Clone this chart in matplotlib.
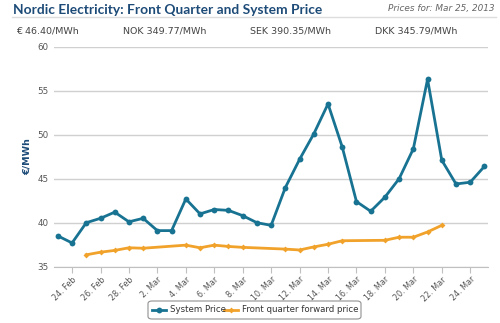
import matplotlib
matplotlib.use("Agg")
import matplotlib.pyplot as plt
from matplotlib.lines import Line2D
from matplotlib.patches import FancyBboxPatch

# Day offsets counted from 23 Feb 2013
system_days = list(range(0, 31))
system_price = [38.5, 37.7, 40.0, 40.5, 41.2, 40.1, 40.5, 39.1, 39.1, 42.7,
                41.0, 41.5, 41.4, 40.8, 40.0, 39.7, 44.0, 47.2, 50.1, 53.5,
                48.6, 42.4, 41.3, 42.9, 45.0, 48.4, 56.3, 47.1, 44.4, 44.6, 46.4]

forward_days = [2, 3, 4, 5, 6, 9, 10, 11, 12, 13, 16, 17, 18, 19, 20, 23, 24, 25, 26, 27]
forward_price = [36.35, 36.65, 36.85, 37.15, 37.1, 37.45, 37.15, 37.45, 37.3, 37.2,
                 37.0, 36.9, 37.25, 37.55, 37.95, 38.0, 38.35, 38.35, 38.95, 39.7]

tick_days = [1, 3, 5, 7, 9, 11, 13, 15, 17, 19, 21, 23, 25, 27, 29]
tick_labels = ["24. Feb", "26. Feb", "28. Feb", "2. Mar", "4. Mar", "6. Mar",
               "8. Mar", "10. Mar", "12. Mar", "14. Mar", "16. Mar", "18. Mar",
               "20. Mar", "22. Mar", "24. Mar"]
y_ticks = [35, 40, 45, 50, 55, 60]

headline_prices = ["€ 46.40/MWh", "NOK 349.77/MWh", "SEK 390.35/MWh", "DKK 345.79/MWh"]

TEAL = "#187392"
ORANGE = "#f1a22a"
NAVY = "#1d4b78"
GREY_TXT = "#555555"

W, H = 500, 323
fig = plt.figure(figsize=(W / 100, H / 100), dpi=100)
fig.patch.set_facecolor("white")

def fx(px):
    return px / W

def fy(py):
    return 1 - py / H

# Header
title = fig.text(fx(13), fy(9.5), "Nordic Electricity: Front Quarter and System Price",
                 fontsize=12, fontweight="bold", color=NAVY,
                 family=["Lato", "DejaVu Sans"], va="center", ha="left")
fig.canvas.draw()
bb = title.get_window_extent()
target_w = 307
if bb.width > target_w * 1.02:
    title.set_fontsize(12 * target_w / bb.width)

fig.text(fx(494), fy(9), "Prices for: Mar 25, 2013", fontsize=6.4, style="italic",
         color="#666666", va="center", ha="right")
fig.add_artist(Line2D([fx(12), fx(496)], [fy(17), fy(17)], color="#dddddd", lw=1))
for txt, px in zip(headline_prices, [16, 123, 250, 375]):
    fig.text(fx(px), fy(31), txt, fontsize=6.8, color="#444444", va="center", ha="left")

# Plot area
ax = fig.add_axes([fx(54), fy(266.7), fx(488) - fx(54), (266.7 - 46.7) / H])
ax.set_xlim(-0.27, 30.25)
ax.set_ylim(35, 60)
ax.set_yticks(y_ticks)
ax.set_yticklabels([str(v) for v in y_ticks])
ax.set_xticks(tick_days)
ax.set_xticklabels(tick_labels, rotation=45, ha="right", rotation_mode="anchor")
ax.grid(axis="y", color="#d0d0d0", lw=1)
ax.set_axisbelow(True)
for s in ["top", "right", "left"]:
    ax.spines[s].set_visible(False)
ax.spines["bottom"].set_color("#c0c0c0")
ax.tick_params(axis="y", length=0, labelsize=6.3, labelcolor=GREY_TXT, pad=4)
ax.tick_params(axis="x", length=4, color="#c0c0c0", labelsize=5.8, labelcolor=GREY_TXT, pad=2)
ax.set_ylabel("€/MWh", fontsize=6.8, fontweight="bold", color=NAVY, labelpad=4)

ax.plot(system_days, system_price, color=TEAL, lw=2, marker="o", ms=4.2,
        markeredgewidth=0, zorder=3, label="System Price")
ax.plot(forward_days, forward_price, color=ORANGE, lw=2, marker="D", ms=3,
        markeredgewidth=0, zorder=3, label="Front quarter forward price")

# Legend
box = FancyBboxPatch((fx(148), fy(319)), fx(361) - fx(148), fy(301) - fy(319),
                     boxstyle="round,pad=0,rounding_size=0.008", transform=fig.transFigure,
                     fc="white", ec="#909090", lw=0.8)
fig.add_artist(box)
leg_y = fy(310)
fig.add_artist(Line2D([fx(152), fx(159), fx(166)], [leg_y] * 3, color=TEAL, lw=2,
                      marker="o", ms=4.2, markevery=[1], markeredgewidth=0))
fig.text(fx(170), leg_y, "System Price", fontsize=6.2, color="#333333", va="center")
fig.add_artist(Line2D([fx(224), fx(231), fx(238)], [leg_y] * 3, color=ORANGE, lw=2,
                      marker="D", ms=3, markevery=[1], markeredgewidth=0))
fig.text(fx(242), leg_y, "Front quarter forward price", fontsize=6.2, color="#333333",
         va="center")

fig.savefig("out.png", dpi=100)
